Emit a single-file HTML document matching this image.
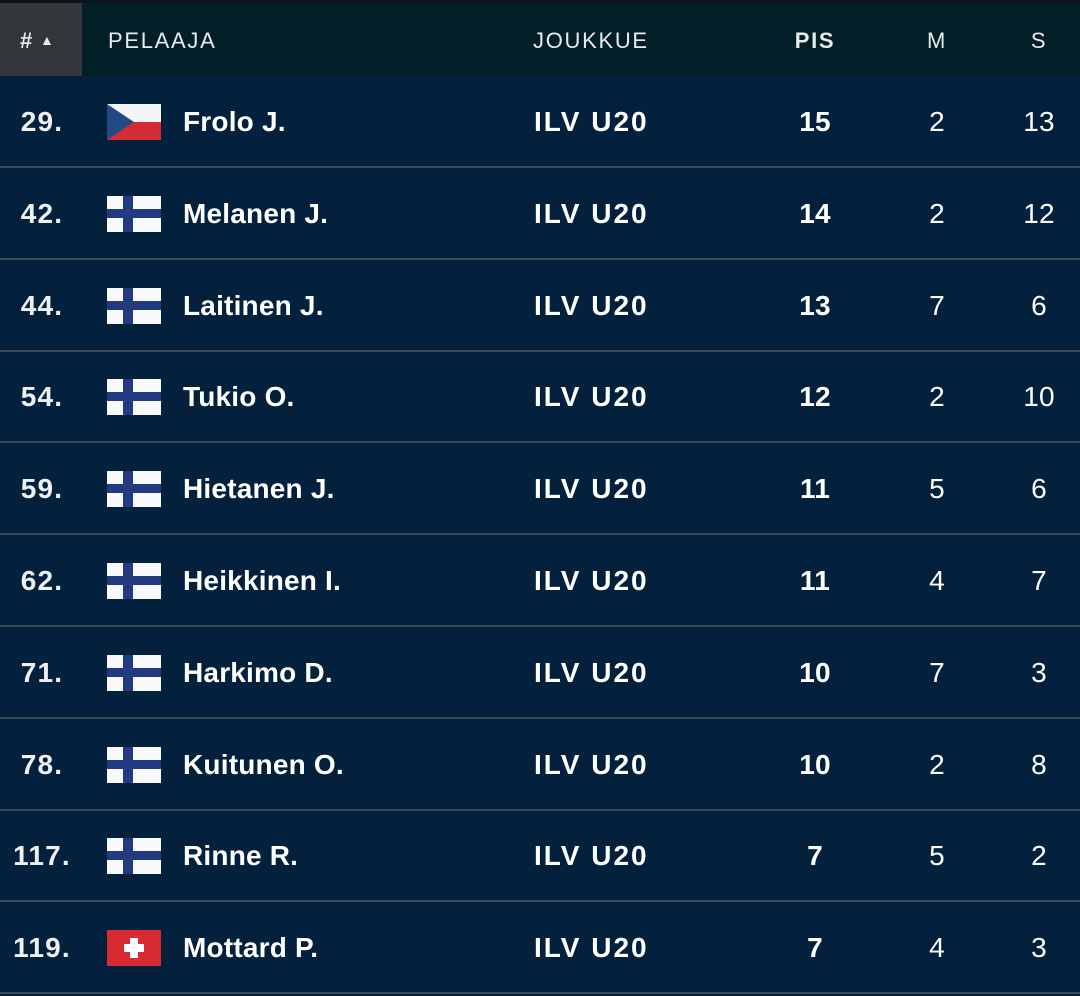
<!DOCTYPE html>
<html><head><style>
body{margin:0;width:1080px;height:996px;background:#03203d;font-family:"Liberation Sans",sans-serif;overflow:hidden;position:relative}
.hdr{position:absolute;left:0;top:0;width:1080px;height:76px;background:#021e26;border-top:3px solid #0b1419;box-sizing:border-box}
.sort{position:absolute;left:0;top:3px;width:82px;height:73px;background:#33373a}
.h{position:absolute;top:28px;color:#e6ecee;font-size:22px;letter-spacing:1.7px}
.row{position:absolute;left:0;width:1080px;height:92px;border-bottom:2px solid #3b4b58;box-sizing:border-box}
.t{position:absolute;top:30px;color:#fff;font-size:28px;font-weight:bold;letter-spacing:0.2px}
.c{transform:translateX(-50%)}
.flag{position:absolute;left:107px;top:28px;width:54px;height:36px}
.n{color:#eef0f2;letter-spacing:1.2px}
.reg{font-weight:normal}
</style></head><body>
<div class="hdr"></div><div class="sort"></div>
<div class="h" style="left:20px;font-weight:bold">#<span style="font-size:14px;margin-left:6px;position:relative;top:-3px">▲</span></div>
<div class="h" style="left:108px">PELAAJA</div>
<div class="h" style="left:533px">JOUKKUE</div>
<div class="h c" style="left:815px;font-weight:bold">PIS</div>
<div class="h c" style="left:937px">M</div>
<div class="h c" style="left:1039px">S</div>
<svg width="0" height="0" style="position:absolute">
<defs>
<symbol id="fi" viewBox="0 0 54 36"><rect width="54" height="36" fill="#f8f9fb"/><rect x="16" width="10" height="36" fill="#233a80"/><rect y="13" width="54" height="9" fill="#233a80"/></symbol>
<symbol id="cz" viewBox="0 0 54 36"><rect width="54" height="18" fill="#f4f5f7"/><rect y="18" width="54" height="18" fill="#d42c35"/><polygon points="0,0 27,18 0,36" fill="#224b85"/></symbol>
<symbol id="ch" viewBox="0 0 54 36"><rect width="54" height="36" fill="#d62b30"/><rect x="23" y="8" width="8" height="20" fill="#fff"/><rect x="17" y="14" width="20" height="8" fill="#fff"/></symbol>
</defs></svg>
<div id="rows"></div>
<script>
var d=[["29.","cz","Frolo J.",15,2,13],["42.","fi","Melanen J.",14,2,12],["44.","fi","Laitinen J.",13,7,6],["54.","fi","Tukio O.",12,2,10],["59.","fi","Hietanen J.",11,5,6],["62.","fi","Heikkinen I.",11,4,7],["71.","fi","Harkimo D.",10,7,3],["78.","fi","Kuitunen O.",10,2,8],["117.","fi","Rinne R.",7,5,2],["119.","ch","Mottard P.",7,4,3]];
var h="";d.forEach(function(r,i){var top=(76+i*91.8).toFixed(1);
h+='<div class="row" style="top:'+top+'px">'+
'<div class="t c n" style="left:42px">'+r[0]+'</div>'+
'<svg class="flag"><use href="#'+r[1]+'"/></svg>'+
'<div class="t" style="left:183px">'+r[2]+'</div>'+
'<div class="t" style="left:534px;letter-spacing:2px">ILV U20</div>'+
'<div class="t c" style="left:815px">'+r[3]+'</div>'+
'<div class="t c reg" style="left:937px">'+r[4]+'</div>'+
'<div class="t c reg" style="left:1039px">'+r[5]+'</div></div>';});
document.getElementById("rows").innerHTML=h;
</script>
</body></html>
